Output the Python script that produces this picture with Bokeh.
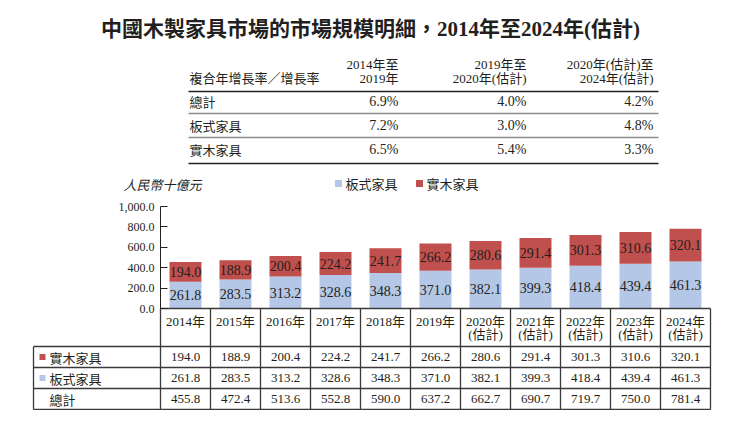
from bokeh.plotting import figure
from bokeh.models import Range1d, LinearAxis, FixedTicker, NumeralTickFormatter, ColumnDataSource
from bokeh.core.properties import value
from bokeh.embed import file_html
from bokeh.resources import INLINE

# ---------------- data ----------------
title = "中國木製家具市場的市場規模明細，2014年至2024年(估計)"
year_line1 = ["2014年", "2015年", "2016年", "2017年", "2018年", "2019年",
              "2020年", "2021年", "2022年", "2023年", "2024年"]
year_line2 = ["", "", "", "", "", "", "(估計)", "(估計)", "(估計)", "(估計)", "(估計)"]
panel_furniture = [261.8, 283.5, 313.2, 328.6, 348.3, 371.0, 382.1, 399.3, 418.4, 439.4, 461.3]
solid_furniture = [194.0, 188.9, 200.4, 224.2, 241.7, 266.2, 280.6, 291.4, 301.3, 310.6, 320.1]
total_market = [455.8, 472.4, 513.6, 552.8, 590.0, 637.2, 662.7, 690.7, 719.7, 750.0, 781.4]
series_names = ["板式家具", "實木家具"]
total_name = "總計"
y_ticks = [0, 200, 400, 600, 800, 1000]
unit_label = "人民幣十億元"

cagr_header = "複合年增長率／增長率"
cagr_period_line1 = ["2014年至", "2019年至", "2020年(估計)至"]
cagr_period_line2 = ["2019年", "2020年(估計)", "2024年(估計)"]
cagr_rows = ["總計", "板式家具", "實木家具"]
cagr_values = [[6.9, 4.0, 4.2],
               [7.2, 3.0, 4.8],
               [6.5, 5.4, 3.3]]

# ---------------- styles / layout ----------------
BLUE = "#b4c7e7"
RED = "#c0504d"
INK = "#231f20"
SERIF = value("Liberation Serif, Noto Sans CJK TC")
CJK = value("Noto Sans CJK TC")
W, H = 734, 410

# screen pixel -> data helpers (column i centred at x 185 + 50 i; value 0 at y 308)
KX = 50.0
KY = 0.102
def X(px):
    return (px - 185.0) / KX
def Y(py):
    return (308.0 - py) / KY

p = figure(width=W, height=H, output_backend="svg", toolbar_location=None,
           x_range=Range1d(X(0), X(W)), y_range=Range1d(Y(H), Y(0)),
           x_axis_type=None, y_axis_type=None, min_border=0,
           min_border_left=0, min_border_right=0, min_border_top=0, min_border_bottom=0)
p.grid.visible = False
p.outline_line_color = None
p.background_fill_color = "white"
p.border_fill_color = "white"

n = len(year_line1)
xs = list(range(n))

# ---------------- title ----------------
p.text(x=[X(370)], y=[Y(28)], text=[title], text_align="center", text_baseline="middle",
       text_font=value("Liberation Serif, Noto Sans CJK TC"), text_font_style="bold",
       text_font_size="21px", text_color=INK)

# ---------------- CAGR table ----------------
col_right = [398, 526, 653]
p.text(x=[X(189)], y=[Y(77)], text=[cagr_header], text_align="left", text_baseline="middle",
       text_font=CJK, text_font_size="13px", text_color=INK)
p.text(x=[X(c) for c in col_right], y=[Y(64)] * 3, text=cagr_period_line1,
       text_align="right", text_baseline="middle", text_font=SERIF, text_font_size="13px", text_color=INK)
p.text(x=[X(c) for c in col_right], y=[Y(78)] * 3, text=cagr_period_line2,
       text_align="right", text_baseline="middle", text_font=SERIF, text_font_size="13px", text_color=INK)
row_y = [101, 125, 149]
for r, name in enumerate(cagr_rows):
    p.text(x=[X(189)], y=[Y(row_y[r])], text=[name], text_align="left", text_baseline="middle",
           text_font=CJK, text_font_size="13px", text_color=INK)
    p.text(x=[X(c) for c in col_right], y=[Y(row_y[r])] * 3,
           text=[f"{v:.1f}%" for v in cagr_values[r]],
           text_align="right", text_baseline="middle", text_font=SERIF, text_font_size="14px", text_color=INK)
p.segment(x0=[X(188)] * 2, x1=[X(658)] * 2, y0=[Y(91), Y(163)], y1=[Y(91), Y(163)],
          line_color="#222222", line_width=1.6)
p.segment(x0=[X(188)] * 2, x1=[X(658)] * 2, y0=[Y(113), Y(137)], y1=[Y(113), Y(137)],
          line_color="#8c8c8c", line_width=1.6)

# ---------------- chart ----------------
src = ColumnDataSource(dict(x=xs, panel=panel_furniture, solid=solid_furniture))
p.vbar_stack(["panel", "solid"], x="x", width=0.64, source=src, color=[BLUE, RED], line_color=None)

p.text(x=xs, y=[v / 2 for v in panel_furniture], text=[f"{v:.1f}" for v in panel_furniture],
       text_align="center", text_baseline="middle", text_font=SERIF, text_font_size="14px", text_color=INK)
p.text(x=xs, y=[a + b / 2 for a, b in zip(panel_furniture, solid_furniture)],
       text=[f"{v:.1f}" for v in solid_furniture],
       text_align="center", text_baseline="middle", text_font=SERIF, text_font_size="14px", text_color=INK)

yaxis = LinearAxis(fixed_location=X(160), bounds=(0, 1000), ticker=FixedTicker(ticks=y_ticks),
                   formatter=NumeralTickFormatter(format="0,0.0"))
yaxis.major_tick_in = 7
yaxis.major_tick_out = 0
yaxis.minor_tick_line_color = None
yaxis.axis_line_color = "#222222"
yaxis.major_tick_line_color = "#222222"
yaxis.major_label_text_font = "Liberation Serif"
yaxis.major_label_text_font_size = "12px"
yaxis.major_label_text_color = INK
yaxis.major_label_standoff = 6
p.add_layout(yaxis, "left")

p.text(x=[X(123)], y=[Y(184)], text=[unit_label], text_align="left", text_baseline="middle",
       text_font=CJK, text_font_style="italic", text_font_size="13px", text_color=INK)

# legend
p.rect(x=[X(338), X(419)], y=[Y(183), Y(183)], width=7 / KX, height=7 / KY,
       fill_color=[BLUE, RED], line_color=None)
p.text(x=[X(345), X(426)], y=[Y(183), Y(183)], text=series_names, text_align="left",
       text_baseline="middle", text_font=CJK, text_font_size="13px", text_color=INK)

# ---------------- bottom data table ----------------
LINE = "#3a3a3a"
p.segment(x0=[X(160)], x1=[X(710)], y0=[Y(308)], y1=[Y(308)], line_color=LINE, line_width=1.3)
p.segment(x0=[X(33)] * 4, x1=[X(710)] * 4, y0=[Y(346), Y(367), Y(388), Y(409)],
          y1=[Y(346), Y(367), Y(388), Y(409)], line_color=LINE, line_width=1.3)
vx = [X(160 + 50 * k) for k in range(n + 1)]
p.segment(x0=vx, x1=vx, y0=[Y(308)] * len(vx), y1=[Y(409)] * len(vx), line_color=LINE, line_width=1.3)
p.segment(x0=[X(33)], x1=[X(33)], y0=[Y(346)], y1=[Y(409)], line_color=LINE, line_width=1.3)

p.text(x=xs, y=[Y(321)] * n, text=year_line1, text_align="center", text_baseline="middle",
       text_font=SERIF, text_font_size="13px", text_color=INK)
p.text(x=xs, y=[Y(334)] * n, text=year_line2, text_align="center", text_baseline="middle",
       text_font=SERIF, text_font_size="13px", text_color=INK)

table_rows_y = [356.5, 377.5, 398.5]
table_series = [solid_furniture, panel_furniture, total_market]
row_labels = [series_names[1], series_names[0], total_name]
for r in range(3):
    p.text(x=xs, y=[Y(table_rows_y[r])] * n, text=[f"{v:.1f}" for v in table_series[r]],
           text_align="center", text_baseline="middle", text_font=SERIF, text_font_size="13px",
           text_color=INK)
    p.text(x=[X(49)], y=[Y(table_rows_y[r])], text=[row_labels[r]], text_align="left",
           text_baseline="middle", text_font=CJK, text_font_size="13px", text_color=INK)
p.rect(x=[X(42), X(42)], y=[Y(table_rows_y[0]), Y(table_rows_y[1])], width=6 / KX, height=6 / KY,
       fill_color=[RED, BLUE], line_color=None)

open("out.html", "w").write(file_html(p, INLINE))
